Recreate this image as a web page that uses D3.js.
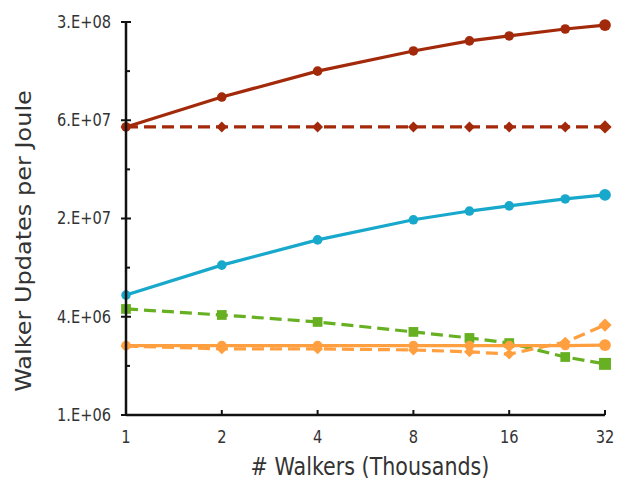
<!DOCTYPE html>
<html>
<head>
<meta charset="utf-8">
<script src="https://cdn.jsdelivr.net/npm/d3@7"></script>
<style>
  body { margin: 0; background: #fff; }
  svg { display: block; font-family: "DejaVu Sans", Verdana, sans-serif; }
</style>
</head>
<body>
<div id="chart"></div>
<script>
// thousands of walkers
const walkers = [1, 2, 4, 8, 12, 16, 24, 32];
const xTicks = [1, 2, 4, 8, 16, 32];
const yTickLabels = ["1.E+06", "4.E+06", "2.E+07", "6.E+07", "3.E+08"];

// walker updates per joule
const redSolid   = [6.54e7, 1.01e8, 1.47e8, 1.97e8, 2.28e8, 2.45e8, 2.71e8, 2.87e8];
const redDashed  = [6.54e7, 6.54e7, 6.54e7, 6.54e7, 6.54e7, 6.54e7, 6.54e7, 6.54e7];
const cyanSolid  = [5.7e6, 8.8e6, 1.27e7, 1.7e7, 1.93e7, 2.08e7, 2.3e7, 2.44e7];
const greenDash  = [4.66e6, 4.27e6, 3.86e6, 3.34e6, 3.06e6, 2.84e6, 2.32e6, 2.1e6];
const orangeSolid = [2.74e6, 2.74e6, 2.74e6, 2.74e6, 2.74e6, 2.74e6, 2.74e6, 2.76e6];
const orangeDash = [2.72e6, 2.61e6, 2.61e6, 2.57e6, 2.5e6, 2.42e6, 2.88e6, 3.69e6];

const width = 633, height = 480;
const margins = { top: 22, left: 126, bottom: 65, right: 28 };
const squash = 0.86; // the text in the picture is a bit narrow

const svg = d3.select("#chart").append("svg")
  .attr("width", width).attr("height", height);

const x = d3.scaleLog().base(2).domain([1, 32])
  .range([margins.left, width - margins.right]);
const y = d3.scaleLog().domain([1e6, 3e8])
  .range([height - margins.bottom, margins.top]);

// major ticks evenly spaced in log space, minor ticks halfway between
const yMajor = d3.range(5).map(k => 1e6 * Math.pow(300, k / 4));
const yMinor = d3.range(4).map(k => 1e6 * Math.pow(300, (k + 0.5) / 4));

const series = [
  { values: redSolid, color: "#a3290b", dash: null, marker: "circle" },
  { values: redDashed, color: "#a3290b", dash: "12,6", marker: "diamond" },
  { values: cyanSolid, color: "#17a8cc", dash: null, marker: "circle" },
  { values: greenDash, color: "#66b022", dash: "12,6", marker: "square" },
  { values: orangeDash, color: "#ff9f3f", dash: "12,6", marker: "diamond" },
  { values: orangeSolid, color: "#ff9f3f", dash: null, marker: "circle" }
];

const line = d3.line()
  .x((d, i) => x(walkers[i]))
  .y(d => y(d));

series.forEach(s => {
  svg.append("path").datum(s.values)
    .attr("fill", "none")
    .attr("stroke", s.color)
    .attr("stroke-width", 3.2)
    .attr("stroke-dasharray", s.dash)
    .attr("d", line);

  const sym = s.marker === "square" ? d3.symbolSquare
    : s.marker === "diamond" ? d3.symbolDiamond2 : d3.symbolCircle;
  const size = s.marker === "square" ? 95 : s.marker === "diamond" ? 75 : 72;
  svg.append("g").selectAll("path").data(s.values).join("path")
    .attr("transform", (d, i) => "translate(" + x(walkers[i]) + "," + y(d) + ")")
    .attr("d", d3.symbol().type(sym).size((d, i) => i === s.values.length - 1 ? size * 1.5 : size))
    .attr("fill", s.color);
});

// axes
const yAxis = svg.append("g").attr("transform", "translate(" + margins.left + ",0)");
yAxis.append("line")
  .attr("x1", 0).attr("x2", 0)
  .attr("y1", y(3e8)).attr("y2", y(1e6))
  .attr("stroke", "#111").attr("stroke-width", 2.5);
yAxis.selectAll("line.major").data(yMajor).join("line").attr("class", "major")
  .attr("x1", -5).attr("x2", 5)
  .attr("y1", d => y(d)).attr("y2", d => y(d))
  .attr("stroke", "#111").attr("stroke-width", 2);
yAxis.selectAll("line.minor").data(yMinor).join("line").attr("class", "minor")
  .attr("x1", 0).attr("x2", 4)
  .attr("y1", d => y(d)).attr("y2", d => y(d))
  .attr("stroke", "#111").attr("stroke-width", 2);
yAxis.selectAll("text").data(yMajor).join("text")
  .attr("transform", d => "translate(-15," + y(d) + ") scale(" + squash + ",1)")
  .attr("dy", "0.35em")
  .attr("text-anchor", "end")
  .style("font-size", "17px").attr("fill", "#333")
  .text((d, i) => yTickLabels[i]);

const xAxis = svg.append("g").attr("transform", "translate(0," + (height - margins.bottom) + ")");
xAxis.append("line")
  .attr("x1", x(1)).attr("x2", x(32))
  .attr("y1", 0).attr("y2", 0)
  .attr("stroke", "#111").attr("stroke-width", 2.5);
xAxis.selectAll("line.tick").data(xTicks).join("line").attr("class", "tick")
  .attr("x1", d => x(d)).attr("x2", d => x(d))
  .attr("y1", 0).attr("y2", -5)
  .attr("stroke", "#111").attr("stroke-width", 2);
xAxis.selectAll("text").data(xTicks).join("text")
  .attr("transform", d => "translate(" + x(d) + ",28) scale(" + squash + ",1)")
  .attr("text-anchor", "middle")
  .style("font-size", "17px").attr("fill", "#333")
  .text(d => d);

// axis titles
svg.append("text").attr("text-anchor", "middle")
  .attr("transform", "translate(370,475) scale(" + squash + ",1)")
  .style("font-size", "24px").attr("fill", "#333")
  .text("# Walkers (Thousands)");
svg.append("text").attr("text-anchor", "middle")
  .attr("transform", "translate(31,241) rotate(-90) scale(1," + squash + ")")
  .style("font-size", "24px").attr("fill", "#333")
  .text("Walker Updates per Joule");
</script>
</body>
</html>
